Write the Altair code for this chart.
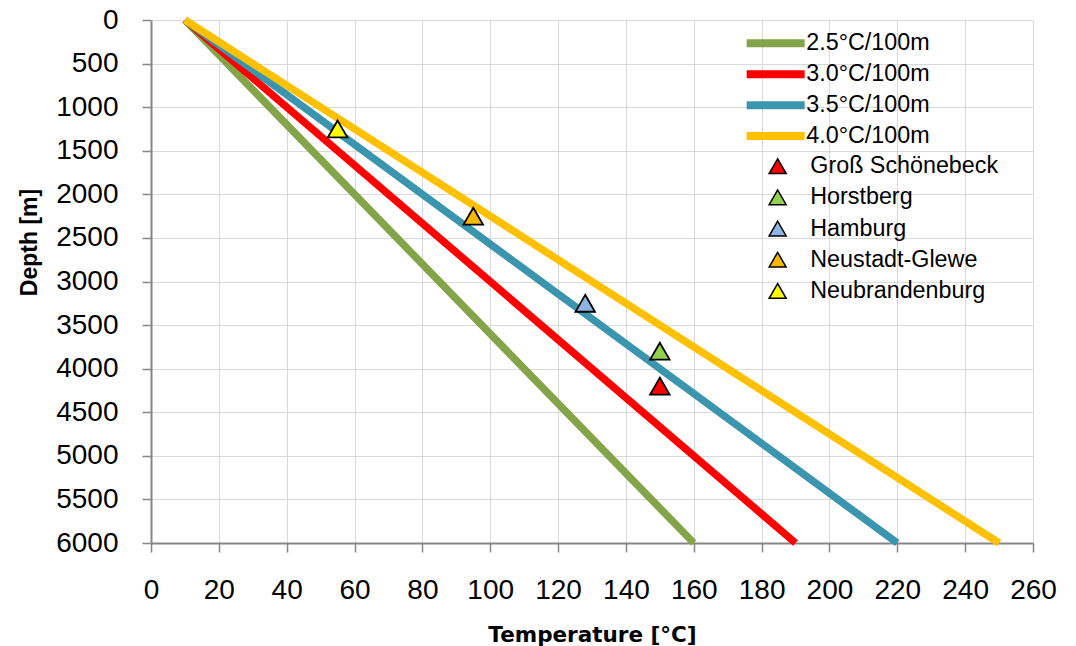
import altair as alt
import pandas as pd

# Geothermal gradient lines
line_labels = ["2.5°C/100m", "3.0°C/100m", "3.5°C/100m", "4.0°C/100m"]
line_colors = ["#84A44A", "#FF0000", "#3B95AE", "#FFC000"]
surface_temp = [10, 10, 10, 10]
bottom_temp = [160, 190, 220, 250]
top_depth = 0
bottom_depth = 6000

# Wells
well_names = ["Groß Schönebeck", "Horstberg", "Hamburg", "Neustadt-Glewe", "Neubrandenburg"]
well_colors = ["#FF0000", "#92D050", "#8EB4E3", "#F9B800", "#FFFF00"]
well_temp = [150, 150, 128, 95, 55]
well_depth = [4200, 3800, 3250, 2250, 1250]

x_ticks = list(range(0, 261, 20))
y_ticks = list(range(0, 6001, 500))

rows = []
for lab, t0, t1 in zip(line_labels, surface_temp, bottom_temp):
    rows.append({"gradient": lab, "temp": t0, "depth": top_depth, "order": 0})
    rows.append({"gradient": lab, "temp": t1, "depth": bottom_depth, "order": 1})
lines_df = pd.DataFrame(rows)
wells_df = pd.DataFrame({"well": well_names, "temp": well_temp, "depth": well_depth})

x_scale = alt.Scale(domain=[0, 260], nice=False, zero=False)
y_scale = alt.Scale(domain=[0, 6000], reverse=True, nice=False, zero=False)

x_axis = alt.Axis(
    title="Temperature [°C]", values=x_ticks, format="d",
    labelFont="Liberation Sans", labelFontSize=28, labelColor="#000000", labelPadding=24,
    titleFont="DejaVu Sans", titleFontSize=21.5, titleFontWeight="bold", titleColor="#000000",
    titleX=441, titleY=98, titleBaseline="alphabetic", titleAlign="center",
    tickSize=9, tickColor="#868686", tickWidth=1.5,
    domainColor="#868686", domainWidth=2,
    gridColor="#D9D9D9", gridWidth=1, labelFlush=False, labelOverlap=False,
)
y_axis = alt.Axis(
    title="Depth [m]", values=y_ticks, format="d",
    labelFont="Liberation Sans", labelFontSize=28, labelColor="#000000", labelPadding=24,
    titleFont="Liberation Sans", titleFontSize=23, titleFontWeight="bold", titleColor="#000000",
    titleX=-122, titleY=222, titleAngle=-90, titleBaseline="middle", titleAlign="center",
    tickSize=9, tickColor="#868686", tickWidth=1.5,
    domainColor="#868686", domainWidth=2,
    gridColor="#D9D9D9", gridWidth=1, labelFlush=False, labelOverlap=False,
)

lines = alt.Chart(lines_df).mark_line(strokeWidth=7.5, strokeCap="butt").encode(
    x=alt.X("temp:Q", scale=x_scale, axis=x_axis),
    y=alt.Y("depth:Q", scale=y_scale, axis=y_axis),
    order="order:O",
    stroke=alt.Stroke(
        "gradient:N",
        scale=alt.Scale(domain=line_labels, range=line_colors),
        legend=alt.Legend(
            title=None, orient="none", legendX=613, legendY=11.7,
            symbolType="M-7.25,0H7.25", symbolSize=64, symbolStrokeWidth=8,
            labelFont="Liberation Sans", labelFontSize=23.3, labelColor="#000000",
            labelOffset=19, rowPadding=-2.1, padding=0, labelLimit=300,
        ),
    ),
)

points = alt.Chart(wells_df).mark_point(
    shape="triangle-up", filled=True, size=380, stroke="black", strokeWidth=1.8, opacity=1
).encode(
    x=alt.X("temp:Q", scale=x_scale),
    y=alt.Y("depth:Q", scale=y_scale),
    fill=alt.Fill(
        "well:N",
        scale=alt.Scale(domain=well_names, range=well_colors),
        legend=alt.Legend(
            title=None, orient="none", legendX=615, legendY=134.5,
            symbolType="triangle-up", symbolSize=289, symbolStrokeColor="black",
            symbolStrokeWidth=1.5, symbolOpacity=1,
            labelFont="Liberation Sans", labelFontSize=23.3, labelColor="#000000",
            labelOffset=21, rowPadding=7.2, padding=0, labelLimit=300,
        ),
    ),
)

chart = alt.layer(lines, points).properties(
    width=882, height=523,
    autosize=alt.AutoSizeParams(type="none"),
    padding={"left": 143, "top": 12, "right": 35, "bottom": 105},
    background="white",
).configure_view(stroke=None)

chart.save("out.html", embed_options={"renderer": "svg", "actions": False})
